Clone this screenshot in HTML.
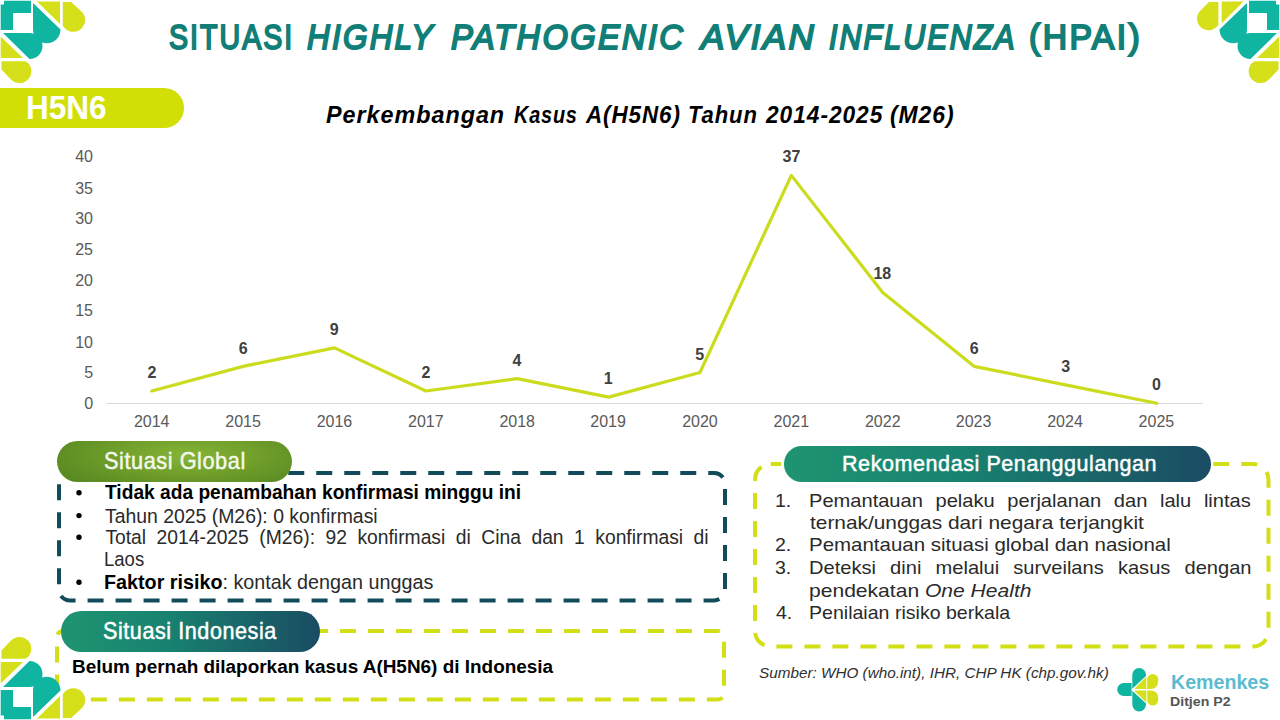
<!DOCTYPE html>
<html><head><meta charset="utf-8"><style>
html,body{margin:0;padding:0;}
body{width:1280px;height:720px;position:relative;overflow:hidden;background:#fff;font-family:"Liberation Sans",sans-serif;}
.t{position:absolute;white-space:nowrap;line-height:1;transform-origin:0 0;}
.a{position:absolute;}
</style></head><body>

<svg class="a" style="left:0;top:0" width="1280" height="720" viewBox="0 0 1280 720">
<line x1="106" y1="403.5" x2="1203" y2="403.5" stroke="#d9d9d9" stroke-width="1"/>
<polyline points="151.80,390.98 243.16,366.34 334.52,347.86 425.88,390.98 517.24,378.66 608.60,397.14 699.96,372.50 791.32,175.38 882.68,292.42 974.04,366.34 1065.40,384.82 1156.76,403.30" fill="none" stroke="#cbdc1e" stroke-width="3.2" stroke-linejoin="round" stroke-linecap="round"/>
<rect x="59" y="473" width="666" height="127.5" rx="11" fill="none" stroke="#124c5a" stroke-width="4" stroke-dasharray="16 12" stroke-dashoffset="5.75"/>
<rect x="57" y="631" width="667" height="68.5" rx="6" fill="none" stroke="#d2df16" stroke-width="4" stroke-dasharray="16 12" stroke-dashoffset="3"/>
<rect x="755" y="464" width="513.5" height="182.5" rx="15.75" fill="none" stroke="#d2df16" stroke-width="4" stroke-dasharray="16 12" stroke-dashoffset="5.5"/>
<circle cx="79" cy="492.7" r="2.7" fill="#000"/>
<circle cx="79" cy="515.6" r="2.7" fill="#000"/>
<circle cx="79" cy="537.2" r="2.7" fill="#000"/>
<circle cx="79" cy="582.2" r="2.7" fill="#000"/>
</svg>
<div class="a" style="left:0;top:88px;width:184px;height:40px;background:#d1df06;border-radius:0 20px 20px 0"></div>
<div class="a" style="left:57px;top:441px;width:235px;height:41px;border-radius:20.5px;background:radial-gradient(ellipse 60% 90% at 55% 35%,#85b436 0%,#6e9d2a 55%,#5a8a22 100%)"></div>
<div class="a" style="left:61px;top:611px;width:259px;height:40.5px;border-radius:20.25px;background:linear-gradient(90deg,#1f9471 0%,#188370 40%,#1a4c63 100%)"></div>
<div class="a" style="left:784.3px;top:446.3px;width:427px;height:35.4px;border-radius:17.7px;background:linear-gradient(90deg,#1f9471 0%,#188370 40%,#1a4c63 100%)"></div>
<svg class="a" style="left:0;top:0" width="1280" height="720" viewBox="0 0 1280 720"><g><g fill="#10b5a2">
<polygon points="4,0.7 31,0.7 31,13 13,13 13,30 0.7,30 0.7,4.5 4,4.5"/>
<path d="M33,3 L33,29.5 A13.75,13.75 0 0 0 60.5,29.5 Z"/>
<path d="M3,33 L29.5,33 A13,13 0 0 1 29.5,59 Z"/>
</g><g fill="#d6e01a">
<polygon points="37,1.6 60,1.6 60,24"/>
<path d="M62.8,1.9 L71.2,1.9 L81.5,11.5 A11.8,11.8 0 0 1 65,28.5 L62.8,25.5 Z"/>
<polygon points="0.7,36.5 0.7,58 23,58"/>
<path d="M1.5,61.3 L1.5,69.6 L11,79.5 A11.6,11.6 0 0 0 28,63 L25.5,61.3 Z"/>
</g></g><g transform="translate(1280,0) scale(-1,1)"><g fill="#10b5a2">
<polygon points="4,0.7 31,0.7 31,13 13,13 13,30 0.7,30 0.7,4.5 4,4.5"/>
<path d="M33,3 L33,29.5 A13.75,13.75 0 0 0 60.5,29.5 Z"/>
<path d="M3,33 L29.5,33 A13,13 0 0 1 29.5,59 Z"/>
</g><g fill="#d6e01a">
<polygon points="36.5,1.6 58.4,1.6 58.4,23.5"/>
<path d="M61.6,1.9 L71,1.9 L79,10 A11.5,11.5 0 0 1 64,27.5 L61.6,25 Z"/>
<polygon points="0.7,36.5 0.7,58 23,58"/>
<path d="M1.5,61.3 L1.5,69.6 L11,79.5 A11.6,11.6 0 0 0 28,63 L25.5,61.3 Z"/>
</g></g><g transform="translate(0,720) scale(1,-1)"><g fill="#10b5a2">
<polygon points="4,0.7 31,0.7 31,13 13,13 13,30 0.7,30 0.7,4.5 4,4.5"/>
<path d="M33,3 L33,29.5 A13.75,13.75 0 0 0 60.5,29.5 Z"/>
<path d="M3,33 L29.5,33 A13,13 0 0 1 29.5,59 Z"/>
</g><g fill="#d6e01a">
<polygon points="37,1.6 60,1.6 60,24"/>
<path d="M62.8,1.9 L71.2,1.9 L81.5,11.5 A11.8,11.8 0 0 1 65,28.5 L62.8,25.5 Z"/>
<polygon points="0.7,36.5 0.7,58 23,58"/>
<path d="M1.5,61.3 L1.5,69.6 L11,79.5 A11.6,11.6 0 0 0 28,63 L25.5,61.3 Z"/>
</g></g><g fill="#10b5a2"><path d="M1131.6,683 L1123.7,683 A6.5,6.5 0 0 0 1123.7,696 L1131.6,696 Z"/><path d="M1132.3,688.7 L1132.3,674.8 A6.85,6.85 0 0 1 1146,674.8 L1146,676 Z"/><path d="M1132.3,690.7 L1132.3,704.6 A6.85,6.85 0 0 0 1146,704.6 L1146,703.4 Z"/></g><g fill="#d6e01a"><polygon points="1134.2,688.9 1146.3,676.8 1146.3,688.9"/><polygon points="1134.2,690.5 1146.3,702.6 1146.3,690.5"/><path d="M1147.2,688.9 L1147.2,679.4 A5.5,5.5 0 0 1 1158.2,679.4 L1158.2,681 Q1158.2,688.9 1150.5,688.9 Z"/><path d="M1147.2,690.5 L1147.2,700 A5.5,5.5 0 0 0 1158.2,700 L1158.2,698.4 Q1158.2,690.5 1150.5,690.5 Z"/></g></svg>
<div class="t" id="e0" style="left:169.31px;top:19.63px;font-size:35.4px;color:#117f77;transform:scaleX(0.8074);-webkit-text-stroke:2px #117f77;letter-spacing:2.5px;">SITUASI</div>
<div class="t" id="e1" style="left:307.36px;top:19.63px;font-size:35.4px;color:#117f77;transform:scaleX(0.8898);-webkit-text-stroke:2px #117f77;letter-spacing:2.5px;"><span style="font-style:italic">HIGHLY</span></div>
<div class="t" id="e2" style="left:450.58px;top:19.63px;font-size:35.4px;color:#117f77;transform:scaleX(0.9233);-webkit-text-stroke:2px #117f77;letter-spacing:2.5px;"><span style="font-style:italic">PATHOGENIC</span></div>
<div class="t" id="e3" style="left:700.94px;top:19.63px;font-size:35.4px;color:#117f77;transform:scaleX(0.9877);-webkit-text-stroke:2px #117f77;letter-spacing:2.5px;"><span style="font-style:italic">AVIAN</span></div>
<div class="t" id="e4" style="left:829.21px;top:19.63px;font-size:35.4px;color:#117f77;transform:scaleX(0.8565);-webkit-text-stroke:2px #117f77;letter-spacing:2.5px;"><span style="font-style:italic">INFLUENZA</span></div>
<div class="t" id="e5" style="left:1029.44px;top:19.63px;font-size:35.4px;color:#117f77;transform:scaleX(0.9545);-webkit-text-stroke:2px #117f77;letter-spacing:2.5px;">(HPAI)</div>
<div class="t" id="e6" style="left:25.53px;top:90.92px;font-size:33.4px;color:#ffffff;transform:scaleX(0.9441);"><span style="font-weight:bold">H5N6</span></div>
<div class="t" id="e7" style="left:326.00px;top:102.65px;font-size:23.8px;color:#000000;transform:scaleX(0.9807);letter-spacing:1px;"><span style="font-weight:bold;font-style:italic">Perkembangan</span></div>
<div class="t" id="e8" style="left:514.03px;top:102.65px;font-size:23.8px;color:#000000;transform:scaleX(0.8335);letter-spacing:1px;"><span style="font-weight:bold;font-style:italic">Kasus</span></div>
<div class="t" id="e9" style="left:585.94px;top:102.65px;font-size:23.8px;color:#000000;transform:scaleX(0.9406);letter-spacing:1px;"><span style="font-weight:bold;font-style:italic">A(H5N6)</span></div>
<div class="t" id="e10" style="left:688.08px;top:102.65px;font-size:23.8px;color:#000000;transform:scaleX(0.9248);letter-spacing:1px;"><span style="font-weight:bold;font-style:italic">Tahun</span></div>
<div class="t" id="e11" style="left:765.96px;top:102.65px;font-size:23.8px;color:#000000;transform:scaleX(0.9553);letter-spacing:1px;"><span style="font-weight:bold;font-style:italic">2014-2025</span></div>
<div class="t" id="e12" style="left:890.02px;top:102.65px;font-size:23.8px;color:#000000;transform:scaleX(0.9617);letter-spacing:1px;"><span style="font-weight:bold;font-style:italic">(M26)</span></div>
<div class="t" id="e13" style="left:104.09px;top:448.88px;font-size:24.0px;color:#f4f8ec;transform:scaleX(0.9059);-webkit-text-stroke:0.5px #f4f8ec;letter-spacing:0.6px;">Situasi Global</div>
<div class="t" id="e14" style="left:103.07px;top:619.96px;font-size:23.2px;color:#ffffff;transform:scaleX(0.9307);-webkit-text-stroke:0.5px #ffffff;letter-spacing:0.6px;">Situasi Indonesia</div>
<div class="t" id="e15" style="left:842.06px;top:451.61px;font-size:22.9px;color:#ffffff;transform:scaleX(0.9405);-webkit-text-stroke:0.5px #ffffff;letter-spacing:0.6px;">Rekomendasi Penanggulangan</div>
<div class="t" id="e16" style="left:105.40px;top:483.46px;font-size:19.3px;color:#000;transform:scaleX(0.9942);"><span style="font-weight:bold">Tidak ada penambahan konfirmasi minggu ini</span></div>
<div class="t" id="e17" style="left:105.40px;top:506.66px;font-size:19.3px;color:#2a2a2a;transform:scaleX(1.0056);">Tahun 2025 (M26): 0 konfirmasi</div>
<div class="t" id="e18" style="left:105.40px;top:528.46px;font-size:19.3px;color:#2a2a2a;word-spacing:5.130px;">Total 2014-2025 (M26): 92 konfirmasi di Cina dan 1 konfirmasi di</div>
<div class="t" id="e19" style="left:104.46px;top:550.06px;font-size:19.3px;color:#2a2a2a;transform:scaleX(0.9606);">Laos</div>
<div class="t" id="e20" style="left:104.37px;top:573.46px;font-size:19.3px;color:#000;transform:scaleX(1.0239);"><span style="font-weight:bold">Faktor risiko</span><span style="color:#2a2a2a">: kontak dengan unggas</span></div>
<div class="t" id="e21" style="left:71.99px;top:657.52px;font-size:18.75px;color:#000;transform:scaleX(1.0097);"><span style="font-weight:bold">Belum pernah dilaporkan kasus A(H5N6) di Indonesia</span></div>
<div class="t" id="e22" style="left:809.40px;top:492.05px;font-size:18.6px;color:#2a2a2a;transform:scaleX(1.0800);word-spacing:6.556px;">Pemantauan pelaku perjalanan dan lalu lintas</div>
<div class="t" id="e23" style="left:810.44px;top:514.45px;font-size:18.6px;color:#2a2a2a;transform:scaleX(1.1213);">ternak/unggas dari negara terjangkit</div>
<div class="t" id="e24" style="left:809.33px;top:536.45px;font-size:18.6px;color:#2a2a2a;transform:scaleX(1.1006);">Pemantauan situasi global dan nasional</div>
<div class="t" id="e25" style="left:809.40px;top:558.65px;font-size:18.6px;color:#2a2a2a;transform:scaleX(1.0800);word-spacing:7.944px;">Deteksi dini melalui surveilans kasus dengan</div>
<div class="t" id="e26" style="left:809.31px;top:581.65px;font-size:18.6px;color:#2a2a2a;transform:scaleX(1.1328);">pendekatan <span style="font-style:italic">One Health</span></div>
<div class="t" id="e27" style="left:809.36px;top:604.05px;font-size:18.6px;color:#2a2a2a;transform:scaleX(1.0519);">Penilaian risiko berkala</div>
<div class="t" id="e28" style="left:775.00px;top:492.05px;font-size:18.6px;color:#2a2a2a;transform:scaleX(1.0500);">1.</div>
<div class="t" id="e29" style="left:775.00px;top:536.45px;font-size:18.6px;color:#2a2a2a;transform:scaleX(1.0500);">2.</div>
<div class="t" id="e30" style="left:775.00px;top:558.65px;font-size:18.6px;color:#2a2a2a;transform:scaleX(1.0500);">3.</div>
<div class="t" id="e31" style="left:776.00px;top:604.05px;font-size:18.6px;color:#2a2a2a;transform:scaleX(1.0500);">4.</div>
<div class="t" id="e32" style="left:759.18px;top:666.47px;font-size:14.8px;color:#303030;transform:scaleX(1.0325);"><span style="font-style:italic">Sumber: WHO (who.int), IHR, CHP HK (chp.gov.hk)</span></div>
<div class="t" id="e33" style="left:1170.63px;top:671.53px;font-size:20.4px;color:#5bbcd0;transform:scaleX(0.9625);"><span style="font-weight:bold">Kemenkes</span></div>
<div class="t" id="e34" style="left:1170.48px;top:695.87px;font-size:12.2px;color:#555555;transform:scaleX(1.1610);"><span style="font-weight:bold">Ditjen P2</span></div>
<div class="t" id="e35" style="left:84.20px;top:395.68px;font-size:16px;color:#595959;">0</div>
<div class="t" id="e36" style="left:84.20px;top:365.28px;font-size:16px;color:#595959;">5</div>
<div class="t" id="e37" style="left:75.20px;top:334.88px;font-size:16px;color:#595959;">10</div>
<div class="t" id="e38" style="left:75.20px;top:303.48px;font-size:16px;color:#595959;">15</div>
<div class="t" id="e39" style="left:75.20px;top:273.08px;font-size:16px;color:#595959;">20</div>
<div class="t" id="e40" style="left:75.20px;top:241.68px;font-size:16px;color:#595959;">25</div>
<div class="t" id="e41" style="left:75.20px;top:211.28px;font-size:16px;color:#595959;">30</div>
<div class="t" id="e42" style="left:75.20px;top:180.88px;font-size:16px;color:#595959;">35</div>
<div class="t" id="e43" style="left:75.20px;top:149.48px;font-size:16px;color:#595959;">40</div>
<div class="t" id="e44" style="left:133.90px;top:414.45px;font-size:16px;color:#595959;">2014</div>
<div class="t" id="e45" style="left:225.28px;top:414.45px;font-size:16px;color:#595959;">2015</div>
<div class="t" id="e46" style="left:316.66px;top:414.45px;font-size:16px;color:#595959;">2016</div>
<div class="t" id="e47" style="left:408.04px;top:414.45px;font-size:16px;color:#595959;">2017</div>
<div class="t" id="e48" style="left:499.42px;top:414.45px;font-size:16px;color:#595959;">2018</div>
<div class="t" id="e49" style="left:590.30px;top:414.45px;font-size:16px;color:#595959;">2019</div>
<div class="t" id="e50" style="left:682.18px;top:414.45px;font-size:16px;color:#595959;">2020</div>
<div class="t" id="e51" style="left:773.56px;top:414.45px;font-size:16px;color:#595959;">2021</div>
<div class="t" id="e52" style="left:864.94px;top:414.45px;font-size:16px;color:#595959;">2022</div>
<div class="t" id="e53" style="left:955.82px;top:414.45px;font-size:16px;color:#595959;">2023</div>
<div class="t" id="e54" style="left:1047.20px;top:414.45px;font-size:16px;color:#595959;">2024</div>
<div class="t" id="e55" style="left:1138.58px;top:414.45px;font-size:16px;color:#595959;">2025</div>
<div class="t" id="e56" style="left:147.40px;top:364.89px;font-size:16px;color:#404040;"><span style="font-weight:bold">2</span></div>
<div class="t" id="e57" style="left:238.78px;top:340.77px;font-size:16px;color:#404040;"><span style="font-weight:bold">6</span></div>
<div class="t" id="e58" style="left:329.66px;top:321.93px;font-size:16px;color:#404040;"><span style="font-weight:bold">9</span></div>
<div class="t" id="e59" style="left:421.54px;top:364.89px;font-size:16px;color:#404040;"><span style="font-weight:bold">2</span></div>
<div class="t" id="e60" style="left:512.42px;top:353.33px;font-size:16px;color:#404040;"><span style="font-weight:bold">4</span></div>
<div class="t" id="e61" style="left:603.80px;top:371.17px;font-size:16px;color:#404040;"><span style="font-weight:bold">1</span></div>
<div class="t" id="e62" style="left:695.18px;top:347.05px;font-size:16px;color:#404040;"><span style="font-weight:bold">5</span></div>
<div class="t" id="e63" style="left:782.56px;top:149.09px;font-size:16px;color:#404040;"><span style="font-weight:bold">37</span></div>
<div class="t" id="e64" style="left:873.44px;top:266.41px;font-size:16px;color:#404040;"><span style="font-weight:bold">18</span></div>
<div class="t" id="e65" style="left:969.82px;top:340.77px;font-size:16px;color:#404040;"><span style="font-weight:bold">6</span></div>
<div class="t" id="e66" style="left:1061.20px;top:358.61px;font-size:16px;color:#404040;"><span style="font-weight:bold">3</span></div>
<div class="t" id="e67" style="left:1152.08px;top:377.45px;font-size:16px;color:#404040;"><span style="font-weight:bold">0</span></div>
</body></html>
